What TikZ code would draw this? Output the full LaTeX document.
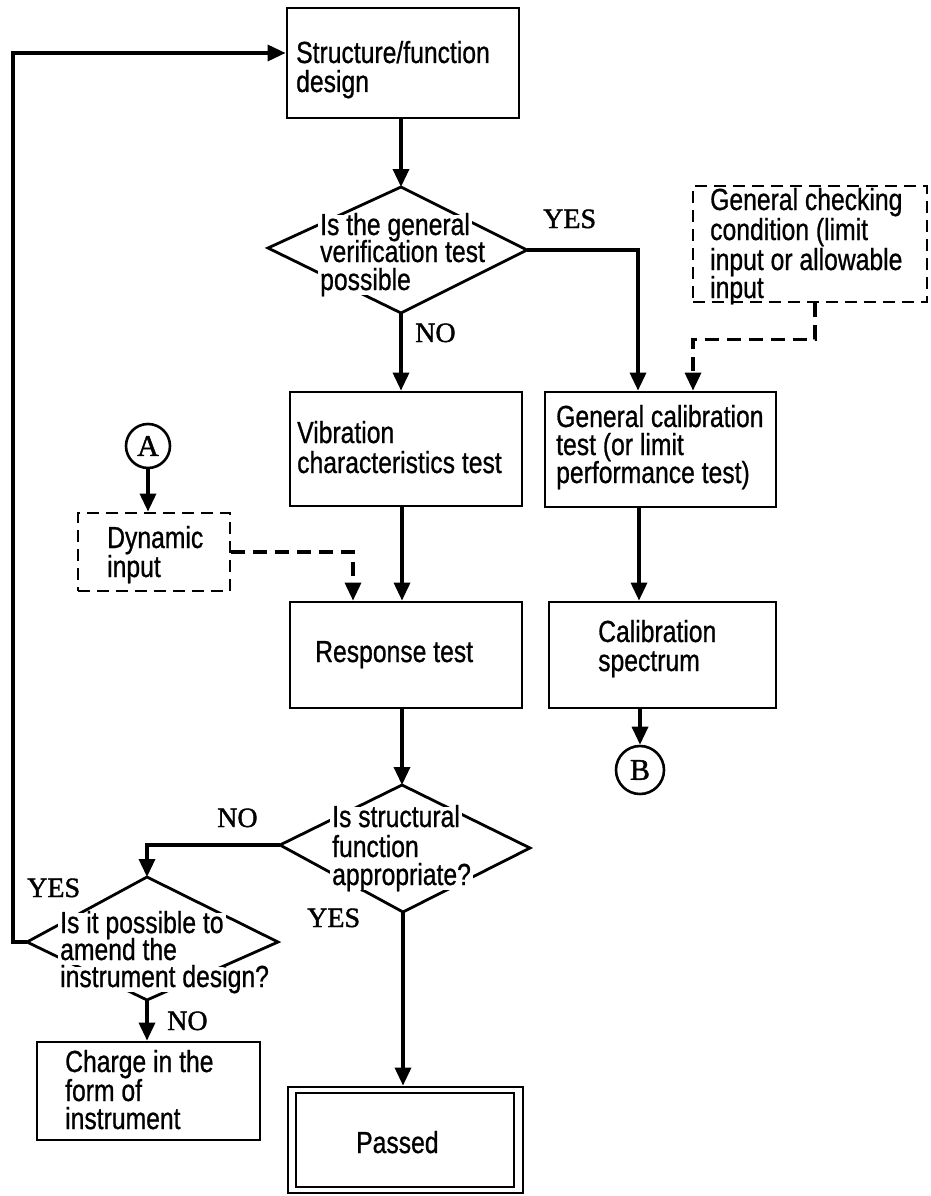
\documentclass[tikz,border=0pt]{standalone}
\usepackage{fontspec}
\setmainfont{Liberation Serif}
\newfontfamily\sfx[FakeStretch=0.81,FakeBold=0.8]{Liberation Sans}
\newfontfamily\serlab[FakeBold=1.4]{Liberation Serif}
\usetikzlibrary{arrows.meta}
\begin{document}
\begin{tikzpicture}[x=1pt,y=-1pt,
  every node/.style={inner sep=0pt},
  box/.style 2 args={draw, line width=2.8pt, minimum width=#1, minimum height=#2},
  dbox/.style 2 args={box={#1}{#2}, dash pattern=on 12pt off 7pt},
  txt/.style={font=\sfx\fontsize{30.5}{28}\selectfont, anchor=base west},
  dtxt/.style={txt, fill=white, text height=20pt, text depth=4.5pt, inner xsep=2pt, inner ysep=0pt},
  lab/.style={font=\serlab\fontsize{28}{28}\selectfont, anchor=base west},
  conn/.style={line width=3.4pt},
  arr/.style={conn, -{Triangle[length=18pt,width=16pt]}},
  darr/.style={arr, dash pattern=on 14pt off 8pt},
  decision/.style={line width=2.8pt, line join=miter},
  ring/.style={circle, draw, line width=2.6pt, font=\serlab\fontsize{30}{30}\selectfont}
]
\useasboundingbox (0,0) rectangle (930,1196);

% ---------- process boxes ----------
\node[box={232pt}{110pt}] (sfd) at (403,63) {};
\node[box={232pt}{114pt}] (vib) at (406,449) {};
\node[box={231pt}{115pt}] (cal) at (660.5,449.5) {};
\node[box={232pt}{106pt}] (resp) at (406,655) {};
\node[box={227pt}{106pt}] (spec) at (662.5,655) {};
\node[box={223pt}{98pt}] (chg) at (148.5,1091) {};
\node[box={235pt}{106pt}] (pass) at (405.5,1140) {};
\node[box={218pt}{94pt}] (passin) at (405,1140) {};

% ---------- dashed input boxes ----------
\node[dbox={152pt}{78pt}] (dyn) at (154,552) {};
\node[dbox={234pt}{116pt}] (gcc) at (810,244) {};

% ---------- connectors A / B ----------
\node[ring, minimum size=44pt] (A) at (148,446) {A};
\node[ring, minimum size=48pt] (B) at (640,770) {B};

% ---------- decision vertices ----------
\coordinate (d1t) at (401,187);
\coordinate (d1r) at (527,250);
\coordinate (d1b) at (401,313);
\coordinate (d1l) at (268,248);
\coordinate (d3t) at (402,785);
\coordinate (d3r) at (530,848);
\coordinate (d3b) at (403,912);
\coordinate (d3l) at (280,845);
\coordinate (d2t) at (147,877);
\coordinate (d2r) at (278,942);
\coordinate (d2b) at (147,1000);
\coordinate (d2l) at (27,942);
\coordinate (loopT) at (13,53);

\draw[decision] (d1t) -- (d1r) -- (d1b) -- (d1l) -- cycle;
\draw[decision] (d3t) -- (d3r) -- (d3b) -- (d3l) -- cycle;
\draw[decision] (d2t) -- (d2r) -- (d2b) -- (d2l) -- cycle;

% ---------- decision texts ----------
\node[dtxt] (q1a) at (318,235) {Is the general};
\node[dtxt] (q1b) at (318,262) {verification test};
\node[dtxt] (q1c) at (318,290) {possible};
\node[dtxt] (q3a) at (330,827) {Is structural};
\node[dtxt] (q3b) at (330,857) {function};
\node[dtxt] (q3c) at (330,885) {appropriate?};
\node[dtxt] (q2a) at (58,933) {Is it possible to};
\node[dtxt] (q2b) at (58,960) {amend the};
\node[dtxt] (q2c) at (58,987) {instrument design?};

% ---------- box texts ----------
\node[txt] (s1) at (296,63) {Structure/function};
\node[txt] (s2) at (296,92) {design};
\node[txt] (v1) at (297,443) {Vibration};
\node[txt] (v2) at (297,473) {characteristics test};
\node[txt] (c1) at (556,427) {General calibration};
\node[txt] (c2) at (556,455) {test (or limit};
\node[txt] (c3) at (556,483) {performance test)};
\node[txt] (r1) at (315,662) {Response test};
\node[txt] (p1) at (598,642) {Calibration};
\node[txt] (p2) at (598,671) {spectrum};
\node[txt] (y1) at (107,548) {Dynamic};
\node[txt] (y2) at (107,577) {input};
\node[txt] (g1) at (710,210) {General checking};
\node[txt] (g2) at (710,240) {condition (limit};
\node[txt] (g3) at (710,270) {input or allowable};
\node[txt] (g4) at (710,298) {input};
\node[txt] (h1) at (65,1072) {Charge in the};
\node[txt] (h2) at (65,1101) {form of};
\node[txt] (h3) at (65,1129) {instrument};
\node[txt] (ps) at (356,1153) {Passed};

% ---------- branch labels ----------
\node[lab] (yes1) at (543,228) {YES};
\node[lab] (no1) at (415,342) {NO};
\node[lab] (no3) at (217,827) {NO};
\node[lab] (yes2) at (27,897) {YES};
\node[lab] (yes3) at (307,927) {YES};
\node[lab] (no2) at (167,1030) {NO};

% ---------- flow ----------
\draw[arr] (sfd.south -| d1t) -- (d1t);
\draw[arr] (d1b) -- (d1b |- vib.north);
\draw[arr] (d1r) -| ([xshift=-22.5pt]cal.north);
\draw[darr] ([xshift=5pt]gcc.south) -- ++(0,36) -| ([xshift=32.5pt]cal.north);
\draw[arr] ([xshift=-4pt]vib.south) -- ([xshift=-4pt]resp.north);
\draw[darr] (dyn.east) -| ([xshift=-53pt]resp.north);
\draw[arr] (A.south) -- (A.south |- dyn.north);
\draw[arr] ([xshift=-21.5pt]cal.south) -- ([xshift=-21.5pt]cal.south |- spec.north);
\draw[arr] (spec.south -| B) -- (B.north);
\draw[arr] ([xshift=-4pt]resp.south) -- (d3t);
\draw[arr] (d3l) -| (d2t);
\draw[arr] (d3b) -- (d3b |- pass.north);
\draw[arr] (d2b) -- (d2b |- chg.north);
\draw[arr] (d2l) -| (loopT) -- (loopT -| sfd.west);
\end{tikzpicture}
\end{document}
